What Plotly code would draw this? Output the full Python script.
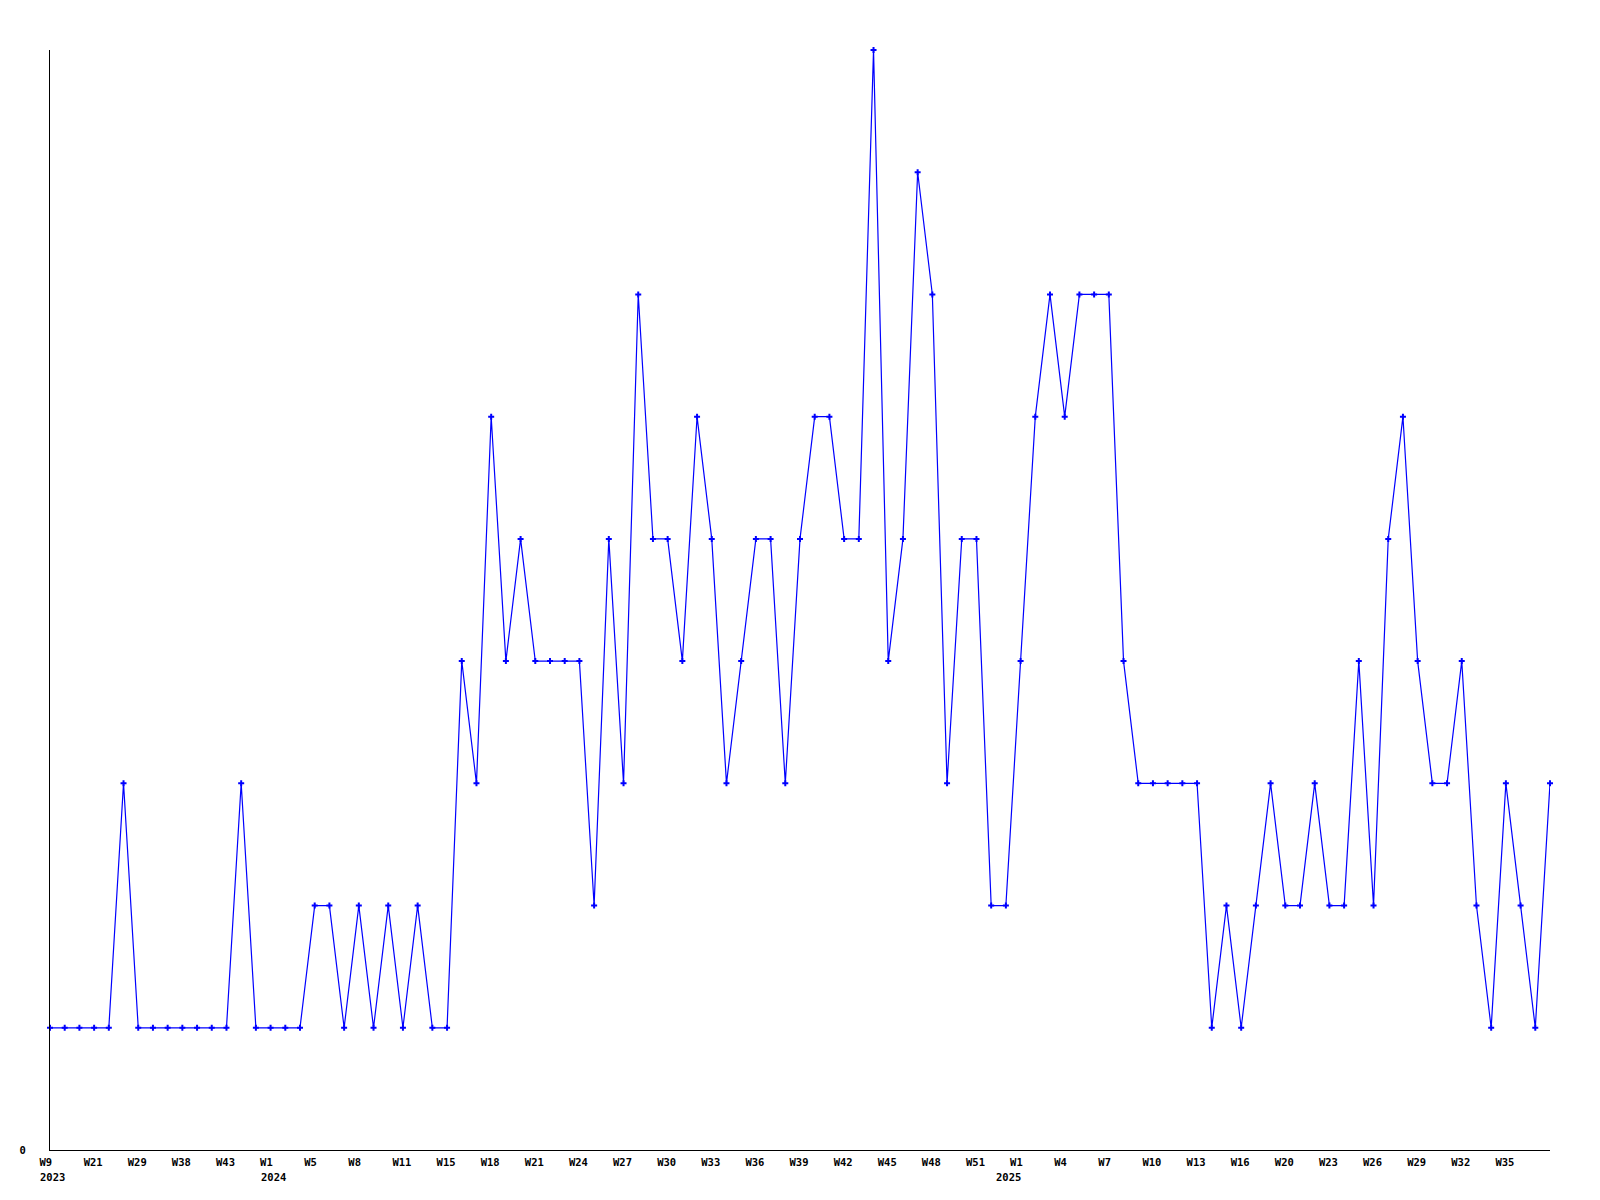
import plotly.graph_objects as go

# Weekly values (one point per recorded week, evenly spaced)
values = [
    1, 1, 1, 1, 1, 3, 1, 1, 1, 1, 1, 1, 1, 3, 1, 1, 1, 1, 2, 2,
    1, 2, 1, 2, 1, 2, 1, 1, 4, 3, 6, 4, 5, 4, 4, 4, 4, 2, 5, 3,
    7, 5, 5, 4, 6, 5, 3, 4, 5, 5, 3, 5, 6, 6, 5, 5, 9, 4, 5, 8,
    7, 3, 5, 5, 2, 2, 4, 6, 7, 6, 7, 7, 7, 4, 3, 3, 3, 3, 3, 1,
    2, 1, 2, 3, 2, 2, 3, 2, 2, 4, 2, 5, 6, 4, 3, 3, 4, 2, 1, 3,
    2, 1, 3,
]

# Tick labels, shown on every third point
tick_labels = [
    "W9", "W21", "W29", "W38", "W43",
    "W1", "W5", "W8", "W11", "W15", "W18", "W21", "W24", "W27", "W30",
    "W33", "W36", "W39", "W42", "W45", "W48", "W51",
    "W1", "W4", "W7", "W10", "W13", "W16", "W20", "W23", "W26", "W29",
    "W32", "W35",
]
label_every = 3
years = ["2023", "2024", "2025"]

x_idx = list(range(len(values)))
tick_vals = [i * label_every for i in range(len(tick_labels))]
# pad 2-char labels with a non-breaking space so text starts at same offset
tick_text = [t + "\u00a0" * (3 - len(t)) for t in tick_labels]

FONT = dict(family="DejaVu Sans Mono", size=10.5, color="black", weight="bold")

fig = go.Figure()
fig.add_trace(go.Scatter(
    x=x_idx, y=values, mode="lines+markers",
    line=dict(color="#0000ff", width=1.2),
    marker=dict(symbol="cross", size=5, color="#0000ff", line=dict(width=0)),
    cliponaxis=False, showlegend=False, hoverinfo="x+y",
))

# year annotations under the first week label of each year
year_starts = [0] + [i for i, t in enumerate(tick_labels) if t == "W1"]
for k, (yr, ti) in enumerate(zip(years, year_starts)):
    last = k == len(years) - 1
    fig.add_annotation(
        x=tick_vals[ti], xref="x", y=0, yref="paper",
        text=yr, showarrow=False, font=FONT,
        xanchor="right" if last else "left",
        xshift=2 if last else -12,
        yanchor="top", yshift=-19,
    )

fig.update_layout(
    width=1600, height=1200, autosize=False,
    margin=dict(l=50, r=50, t=50, b=50),
    paper_bgcolor="white", plot_bgcolor="white",
    font=FONT,
    xaxis=dict(
        range=[0, len(values) - 1], showgrid=False, zeroline=False,
        showline=True, linecolor="black", linewidth=1,
        ticks="", tickvals=tick_vals, ticktext=tick_text,
        tickfont=FONT, ticklabelstandoff=2, ticklabelshift=-1,
    ),
    yaxis=dict(
        range=[0, 9], showgrid=False, zeroline=False,
        showline=True, linecolor="black", linewidth=1,
        ticks="", tickvals=[0], ticktext=["0"],
        tickfont=FONT, ticklabelstandoff=21,
    ),
)

fig.write_html("out.html", config={"displayModeBar": False},
               post_script="document.body.style.margin='0';")
